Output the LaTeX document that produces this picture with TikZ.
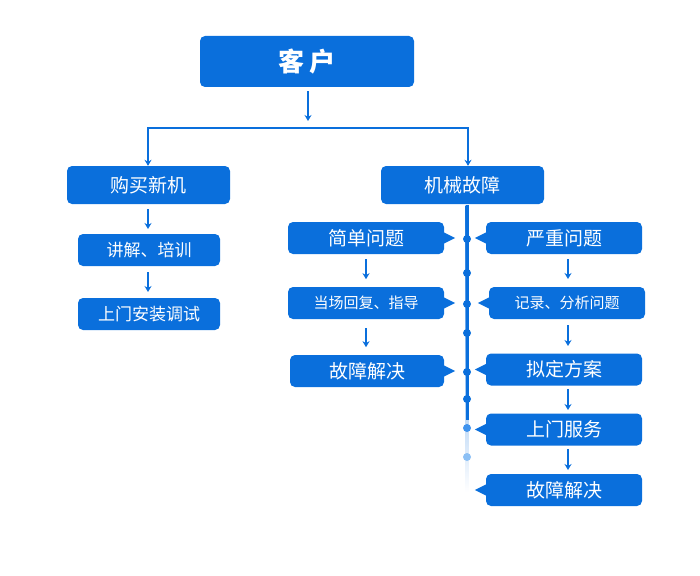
\documentclass[tikz,border=0pt]{standalone}
\usepackage{fontspec}
\setmainfont{Noto Sans CJK SC}
\usetikzlibrary{arrows.meta}
\definecolor{blu}{HTML}{0A6FDC}
\definecolor{dotl}{HTML}{3F93EE}
\definecolor{dotx}{HTML}{8CC0F5}
\begin{document}
\begin{tikzpicture}[x=1pt,y=-1pt,>={Stealth[length=6pt,width=7pt]},
  box/.style={fill=blu,rounded corners=5pt,text=white,font=\fontsize{17}{17}\selectfont,inner sep=0pt},
  arr/.style={->,blu,line width=1.6pt},
  dot/.style={circle,fill=blu,inner sep=0pt,minimum size=8pt}]
  \useasboundingbox (0,0) rectangle (700,575);
  % Top
  \node (kh) [box,minimum width=214pt,minimum height=51pt,font=\fontsize{26}{26}\selectfont\bfseries] at (307,61.5) {客\,户};
  \node (gm) [box,minimum width=163pt,minimum height=38pt,font=\fontsize{19}{19}\selectfont] at (148.5,185) {购买新机};
  \node (gz) [box,minimum width=163pt,minimum height=38pt,font=\fontsize{19}{19}\selectfont] at (462.5,185) {机械故障};
  \coordinate (split) at (308,128);
  \draw[arr] (kh.south) ++(1,4) -- (split|-0,121);
  \draw[blu,line width=1.6pt] (148,128) -- (468,128);
  \draw[arr] (148,127) -- (gm.north-|148,0);
  \draw[arr] (468,127) -- (gz.north-|468,0);
  % Left branch
  \node (jj) [box,minimum width=142pt,minimum height=32pt] at (149,250) {讲解、培训};
  \node (sm) [box,minimum width=142pt,minimum height=32pt] at (149,314) {上门安装调试};
  \draw[arr] (148,209) -- (148,229);
  \draw[arr] (148,272) -- (148,292);
  % Timeline
  \shade[top color=blu,bottom color=white] (465.5,205) rectangle (468.5,492);
  \fill[blu] (465.5,205) rectangle (468.5,420);
  \foreach \y in {239,273,304,333,372,399}
    \node[dot] at (467,\y) {};
  \node[dot,fill=dotl] at (467,428) {};
  \node[dot,fill=dotx] at (467,457) {};
  % Simple problems
  \foreach \n/\cx/\cy/\w/\t/\fs in {a1/366/238/156/简单问题/19, a2/366/303/156/当场回复、指导/15, a3/367/371/154/故障解决/19}{
    \node (\n) [box,minimum width=\w pt,minimum height=32pt,font=\fontsize{\fs}{\fs}\selectfont] at (\cx,\cy) {\t};
    \fill[blu] (\n.east) ++(-1,-6) -- ++(12,6) -- ++(-12,6) -- cycle;
  }
  \draw[arr] (a1.south) ++(0,5) -- ++(0,20);
  \draw[arr] (a2.south) ++(0,9) -- ++(0,19);
  % Serious problems
  \foreach \n/\cx/\cy/\w/\t/\fs in {b1/564/238/156/严重问题/19, b2/567/303/156/记录、分析问题/15, b3/564/369.5/156/拟定方案/19, b4/564/429.5/156/上门服务/19, b5/564/490/156/故障解决/19}{
    \node (\n) [box,minimum width=\w pt,minimum height=32pt,font=\fontsize{\fs}{\fs}\selectfont] at (\cx,\cy) {\t};
    \fill[blu] (\n.west) ++(1,-6) -- ++(-12,6) -- ++(12,6) -- cycle;
  }
  \draw[arr] (568,259) -- (568,279);
  \draw[arr] (568,325) -- (568,346);
  \draw[arr] (568,389) -- (568,410);
  \draw[arr] (568,449) -- (568,470);
\end{tikzpicture}
\end{document}
